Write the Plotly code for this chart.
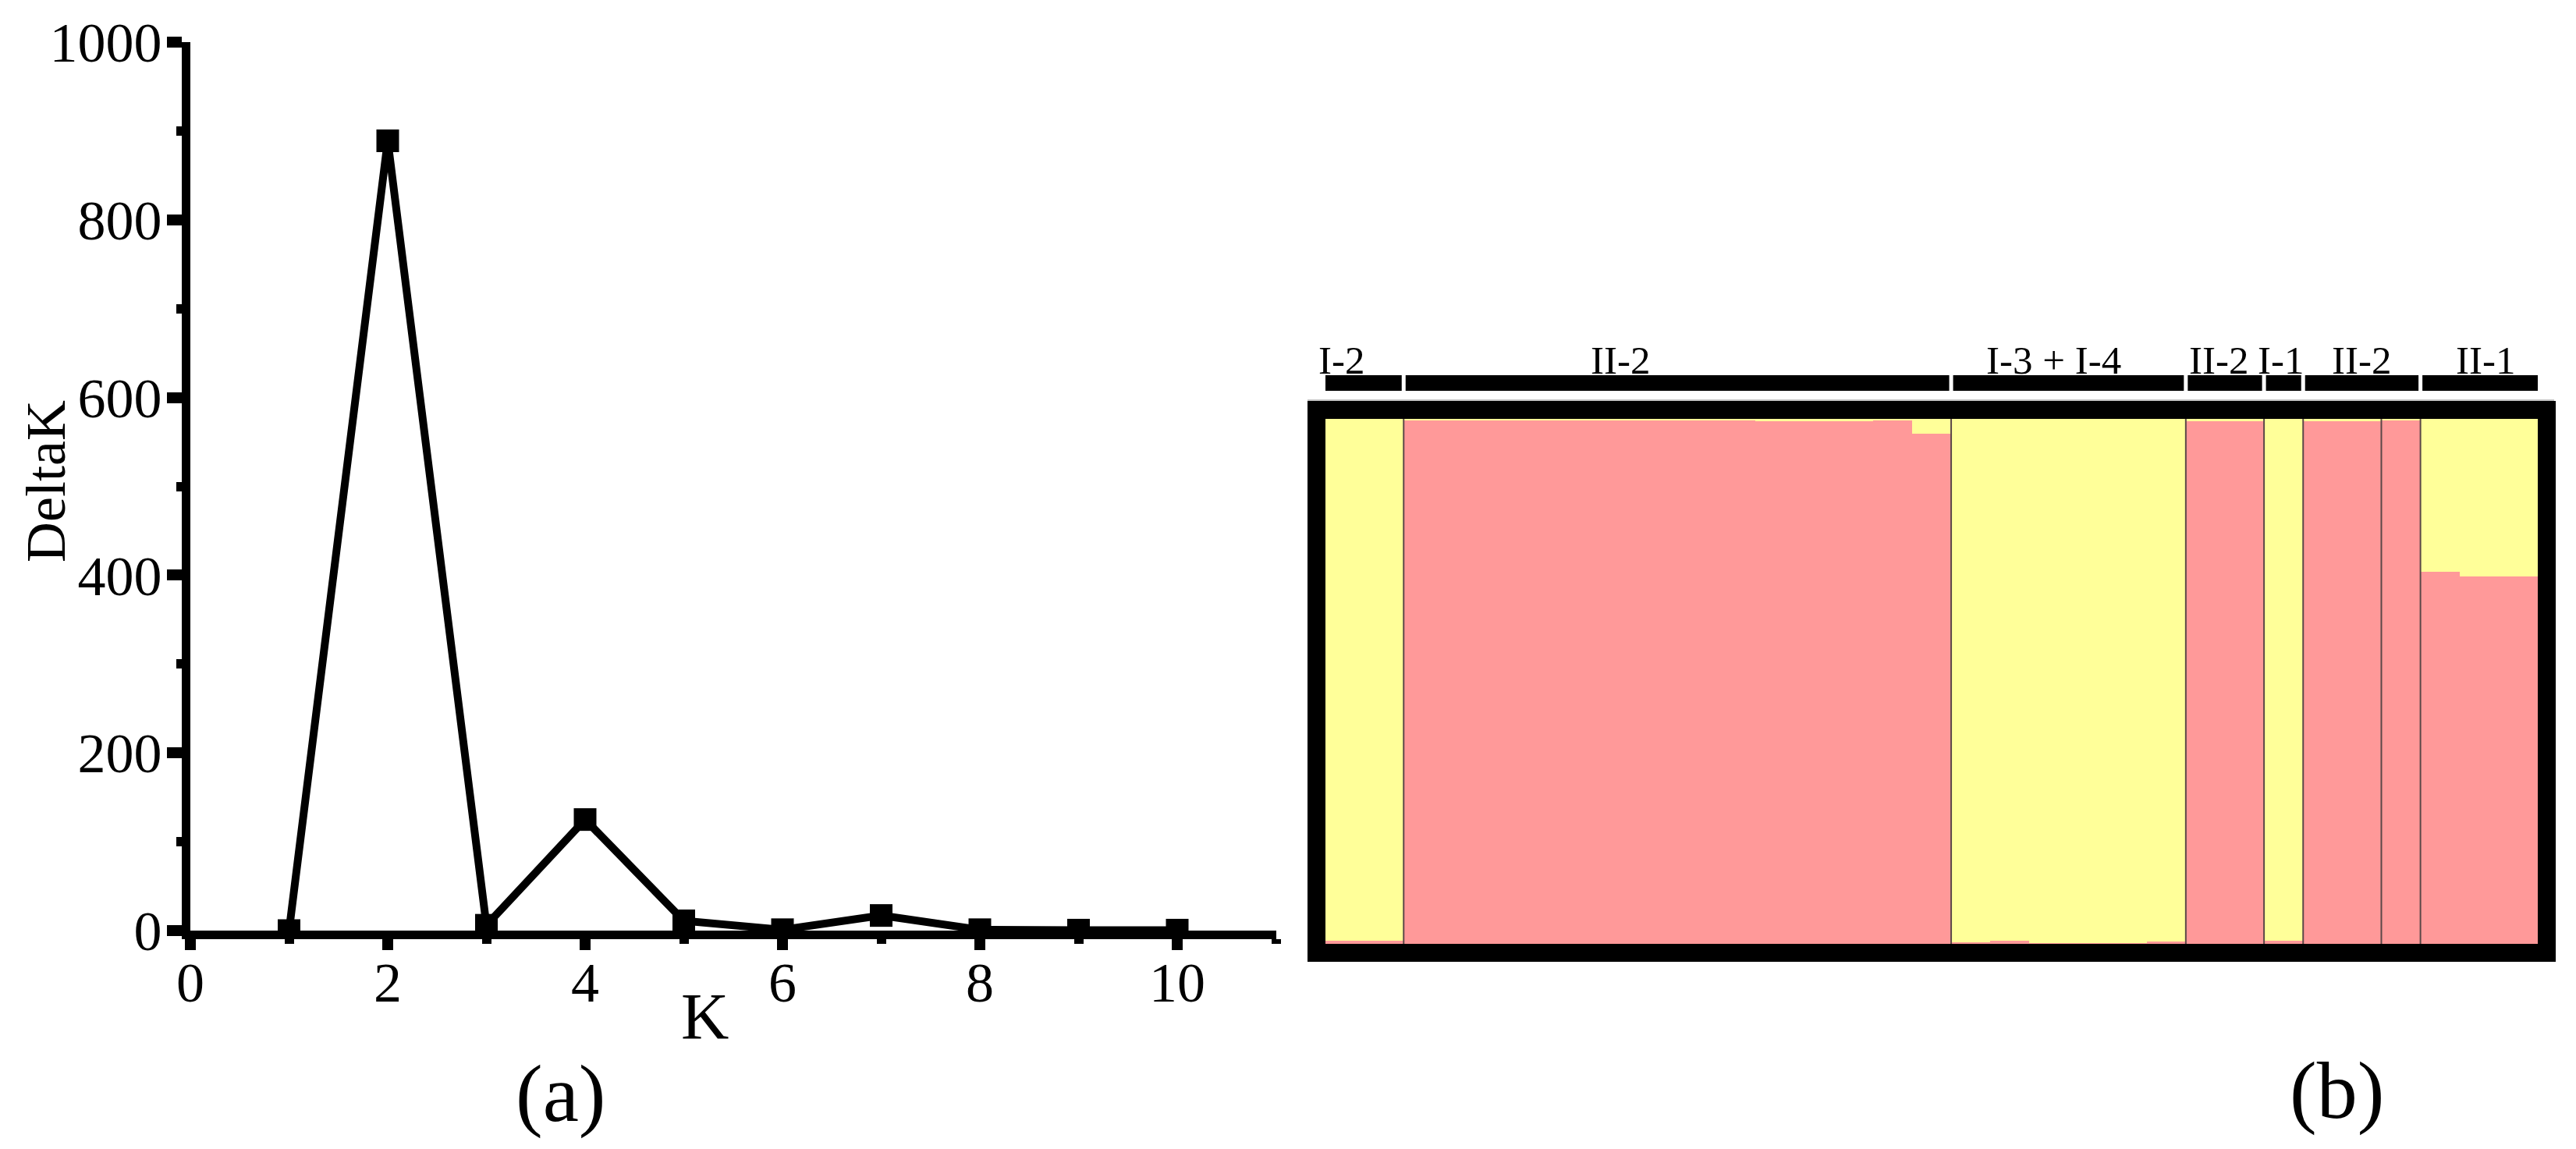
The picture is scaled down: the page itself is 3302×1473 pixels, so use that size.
import plotly.graph_objects as go

# ---- panel (a): DeltaK vs K ----
k_values = [1, 2, 3, 4, 5, 6, 7, 8, 9, 10]
delta_k = [0, 889, 6, 125, 11, 1, 17, 1, 0.5, 0.5]

# ---- panel (b): STRUCTURE membership (K=2), one bar per individual ----
q_pink = [0.006, 0.006,
          0.997, 0.997, 0.997, 0.997, 0.997, 0.997, 0.997, 0.997, 0.997,
          0.995, 0.995, 0.995, 0.997, 0.972,
          0.003, 0.006, 0.002, 0.002, 0.002, 0.004,
          0.996, 0.996,
          0.006,
          0.996, 0.996, 0.997,
          0.709, 0.700, 0.700]
q_yellow = [0.994, 0.994,
            0.003, 0.003, 0.003, 0.003, 0.003, 0.003, 0.003, 0.003, 0.003,
            0.005, 0.005, 0.005, 0.003, 0.028,
            0.997, 0.994, 0.998, 0.998, 0.998, 0.996,
            0.004, 0.004,
            0.994,
            0.004, 0.004, 0.003,
            0.291, 0.300, 0.300]
pop_labels = ["I-2", "II-2", "I-3 + I-4", "II-2", "I-1", "II-2", "II-1"]
pop_sizes = [2, 14, 6, 2, 1, 3, 3]
cluster_sizes = [2, 14, 6, 2, 1, 2, 1, 3]

W, H = 3302, 1473
FONT = "Liberation Serif"
OFF = 8  # page body margin


def px_x(p):
    return (p - OFF) / W


def px_y(p):
    return 1 - (p - OFF) / H


fig = go.Figure()

fig.add_trace(go.Scatter(
    x=k_values, y=delta_k, mode="lines+markers",
    line=dict(color="black", width=10),
    marker=dict(symbol="square", size=29, color="black"),
    xaxis="x", yaxis="y", showlegend=False,
))

idx = list(range(len(q_pink)))
fig.add_trace(go.Bar(x=idx, y=q_pink, width=1, marker=dict(color="#ff9999", line=dict(width=0)),
                     xaxis="x2", yaxis="y2", showlegend=False))
fig.add_trace(go.Bar(x=idx, y=q_yellow, width=1, marker=dict(color="#ffff99", line=dict(width=0)),
                     xaxis="x2", yaxis="y2", showlegend=False))

shapes = []
# separators between clusters of individuals
pos = 0
for n in cluster_sizes[:-1]:
    pos += n
    shapes.append(dict(type="line", xref="x2", yref="y2", x0=pos - 0.5, x1=pos - 0.5, y0=0, y1=1,
                       line=dict(color="#5b4848", width=2)))

# black population bars above the plot + labels
label_nudge = [-0.6, -1.46, -0.37, -0.16, -0.08, 0.0, 0.16]
annotations = []
start = 0
n_total = len(q_pink)
for i, (lab, n) in enumerate(zip(pop_labels, pop_sizes)):
    end = start + n
    x0 = start - 0.5 + 0.05
    x1 = end - 0.5 - 0.05
    if start == 0:
        x0 = -0.5 - 0.46
    if end == n_total:
        x1 = n_total - 0.5 + 0.44
    shapes.append(dict(type="rect", xref="x2", yref="paper", x0=x0, x1=x1,
                       y0=px_y(501), y1=px_y(481), fillcolor="black", line=dict(width=0)))
    annotations.append(dict(text=lab, xref="x2", yref="paper", x=(start + end - 1) / 2 + label_nudge[i],
                            y=px_y(462), xanchor="center", yanchor="middle", showarrow=False,
                            font=dict(family=FONT, size=51, color="black")))
    start = end

shapes.append(dict(type="line", xref="paper", yref="paper", x0=px_x(1676), x1=px_x(3274),
                   y0=px_y(513), y1=px_y(513), line=dict(color="#c4c4c4", width=2)))

annotations += [
    dict(text="DeltaK", xref="paper", yref="paper", x=px_x(59), y=px_y(617), textangle=-90,
         xanchor="center", yanchor="middle", showarrow=False, font=dict(family=FONT, size=72, color="black")),
    dict(text="K", xref="paper", yref="paper", x=px_x(903), y=px_y(1303),
         xanchor="center", yanchor="middle", showarrow=False, font=dict(family=FONT, size=85, color="black")),
    dict(text="(a)", xref="paper", yref="paper", x=px_x(718), y=px_y(1402),
         xanchor="center", yanchor="middle", showarrow=False, font=dict(family=FONT, size=104, color="black")),
    dict(text="(b)", xref="paper", yref="paper", x=px_x(2995), y=px_y(1398),
         xanchor="center", yanchor="middle", showarrow=False, font=dict(family=FONT, size=104, color="black")),
]

fig.update_layout(
    template="none",
    width=W, height=H, margin=dict(l=0, r=0, t=0, b=0, pad=0),
    paper_bgcolor="white", plot_bgcolor="white",
    barmode="stack", bargap=0, showlegend=False,
    font=dict(family=FONT, color="black"),
    xaxis=dict(domain=[px_x(244), px_x(1635.5)], range=[0, 11], anchor="y", automargin=False,
               showline=True, linewidth=11, linecolor="black", showgrid=False, zeroline=False,
               tickvals=[0, 2, 4, 6, 8, 10], ticks="outside", ticklen=14, tickwidth=14, tickcolor="black",
               tickfont=dict(family=FONT, size=72, color="black"), ticklabelstandoff=-20,
               minor=dict(tickvals=[1, 3, 5, 7, 9, 11], ticks="outside", ticklen=6, tickwidth=12,
                          tickcolor="black", showgrid=False)),
    yaxis=dict(domain=[px_y(1193), px_y(54)], range=[0, 1000], anchor="x", automargin=False,
               showline=True, linewidth=11, linecolor="black", showgrid=False, zeroline=False,
               tickvals=[0, 200, 400, 600, 800, 1000], ticks="outside", ticklen=19, tickwidth=14,
               tickcolor="black", tickfont=dict(family=FONT, size=72, color="black"), ticklabelstandoff=-8,
               minor=dict(tickvals=[100, 300, 500, 700, 900], ticks="outside", ticklen=7, tickwidth=12,
                          tickcolor="black", showgrid=False)),
    xaxis2=dict(domain=[px_x(1699), px_x(3253)], range=[-0.5, n_total - 0.5], anchor="y2", automargin=False,
                showline=True, mirror=True, linewidth=23, linecolor="black",
                showgrid=False, zeroline=False, showticklabels=False, ticks=""),
    yaxis2=dict(domain=[px_y(1210), px_y(537)], range=[0, 1], anchor="x2", automargin=False,
                showline=True, mirror=True, linewidth=23, linecolor="black",
                showgrid=False, zeroline=False, showticklabels=False, ticks=""),
    shapes=shapes,
    annotations=annotations,
)

fig.write_html("out.html")
